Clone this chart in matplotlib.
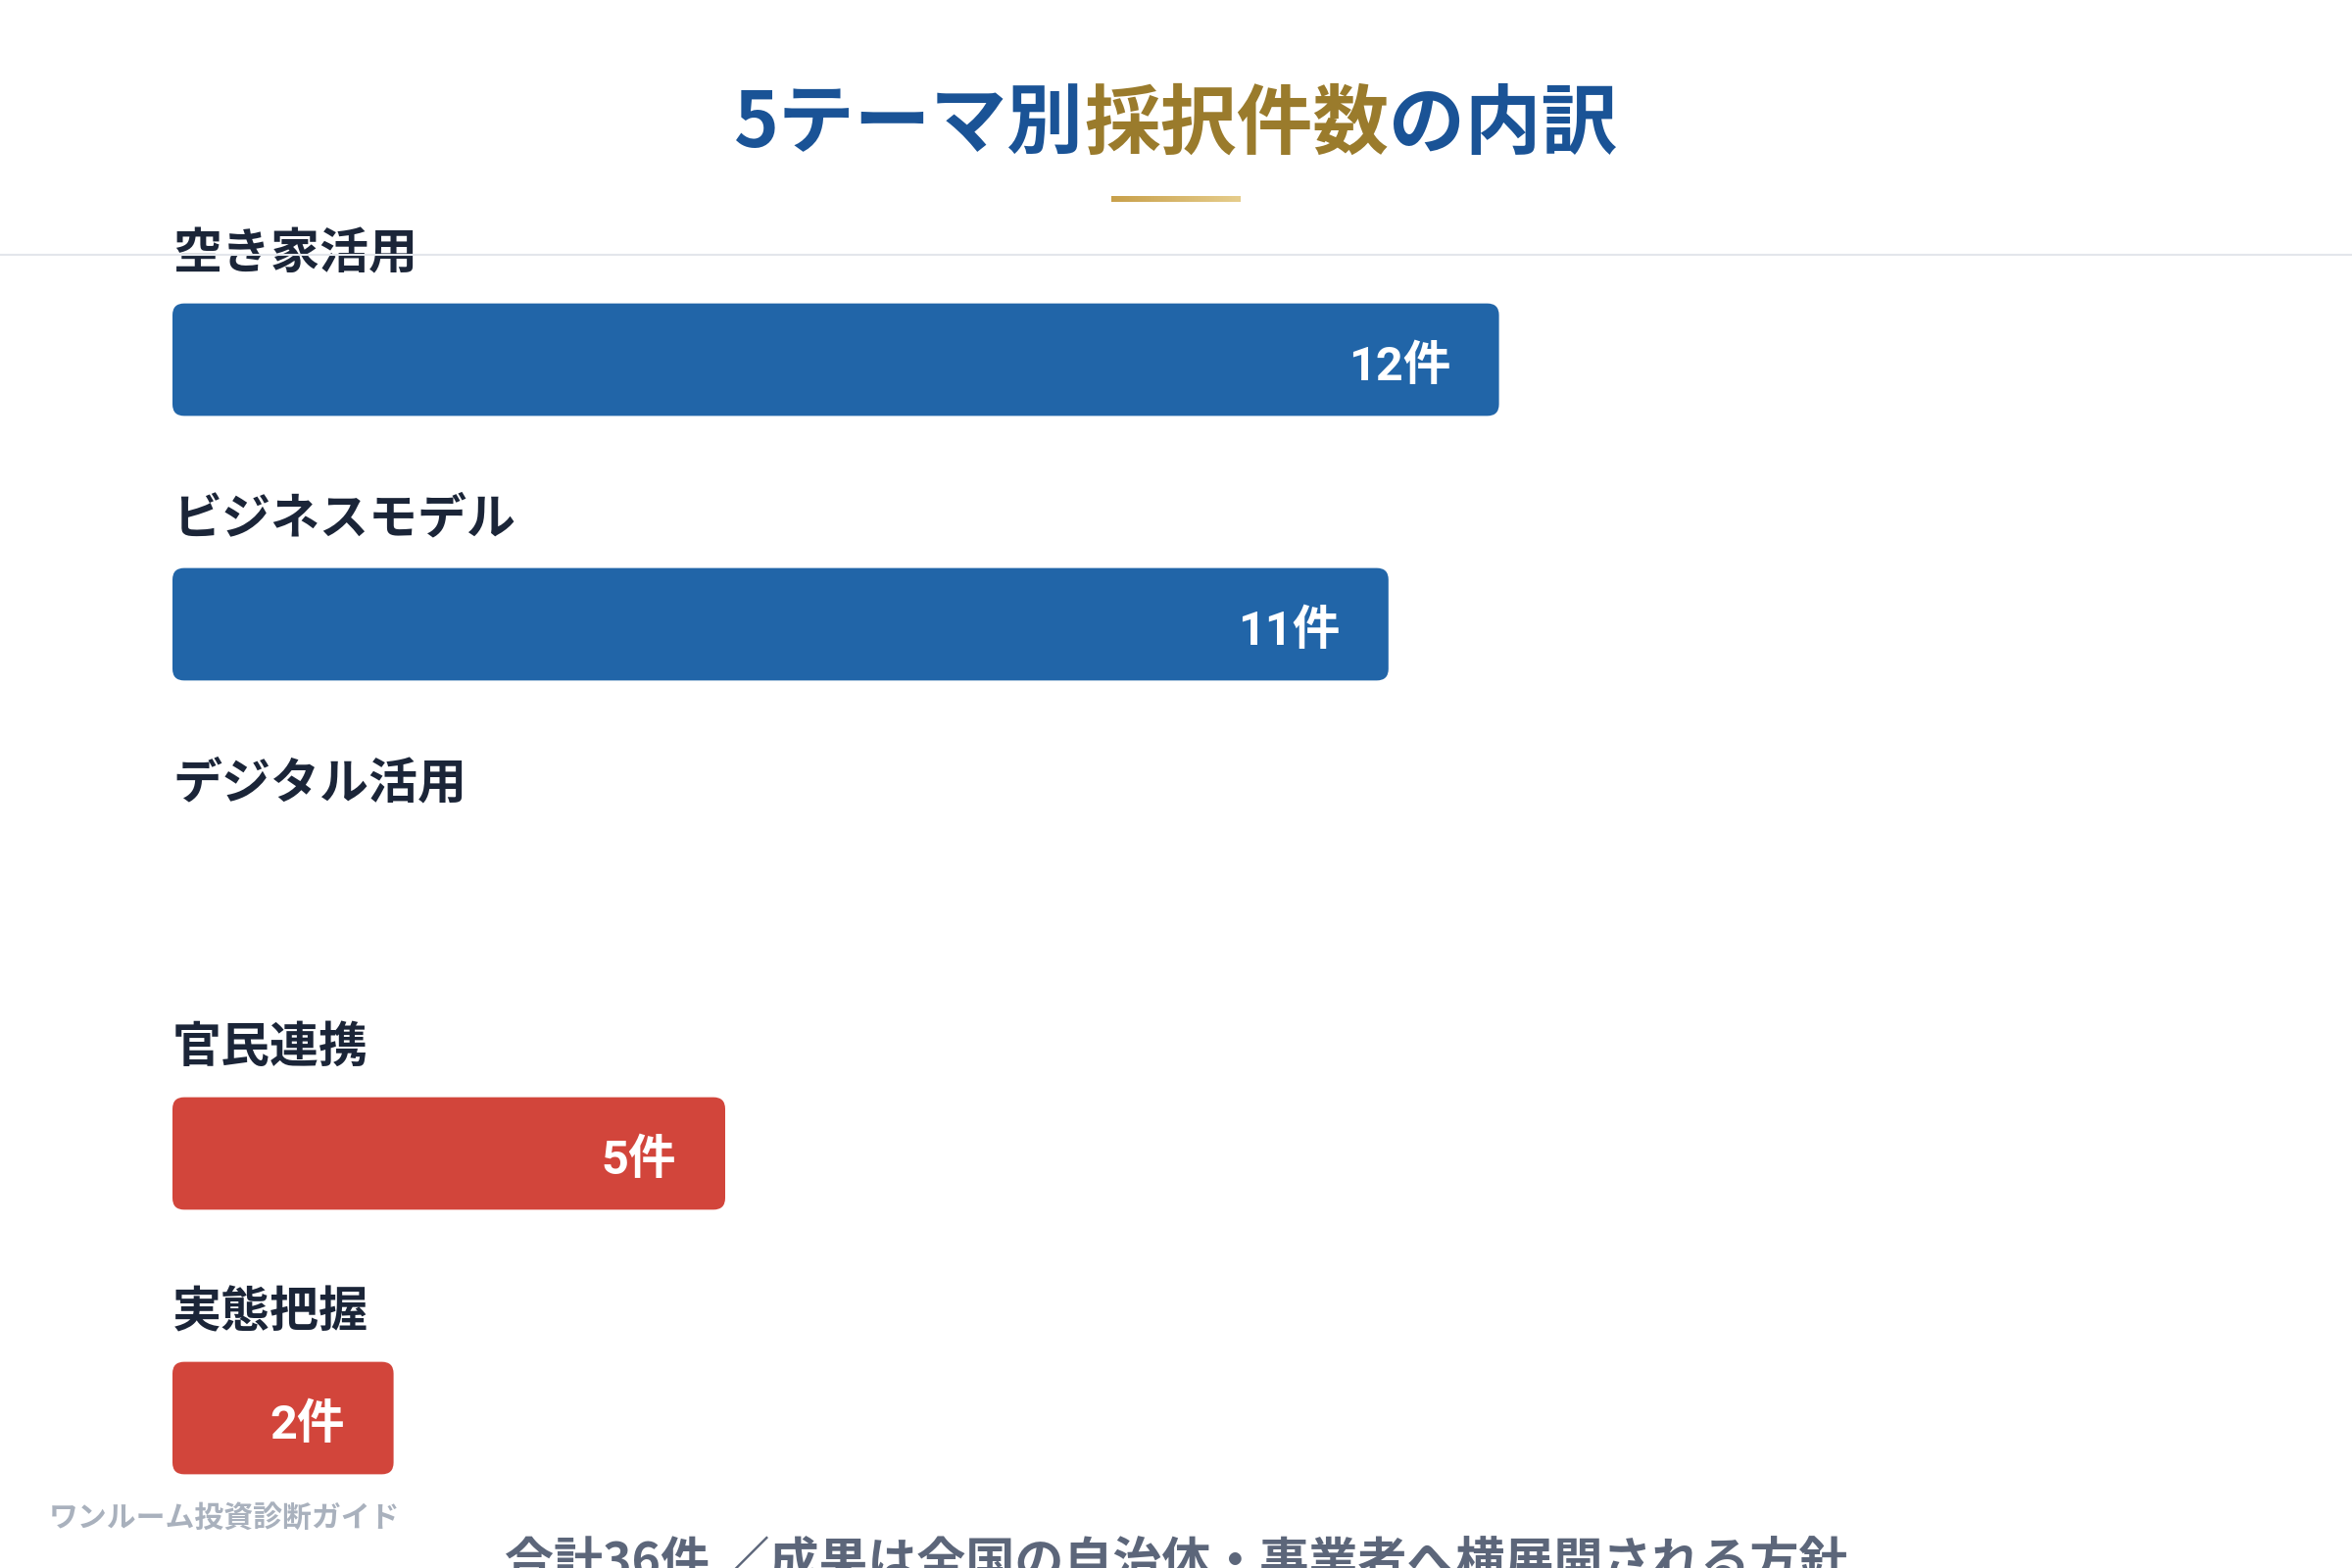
import numpy as np
import matplotlib
matplotlib.use("Agg")
import matplotlib.pyplot as plt
from matplotlib.patches import FancyBboxPatch
from matplotlib.lines import Line2D
from matplotlib.colors import LinearSegmentedColormap

plt.rcParams['font.family'] = ['Noto Sans CJK JP', 'DejaVu Sans']

# データ（テーマ別の採択件数）
themes = ["空き家活用", "ビジネスモデル", "デジタル活用", "官民連携", "実態把握"]
counts = [12, 11, None, 5, 2]   # デジタル活用 は参照画像でバーが描かれていない
unit = "件"
title_parts = ["5テーマ別", "採択件数", "の内訳"]
footer = "合計36件 ／成果は全国の自治体・事業者へ横展開される方針"
watermark = "ワンルーム投資診断ガイド"

# スタイル
bar_colors = ["#2165a8", "#2165a8", "#2165a8", "#d2453b", "#d2453b"]
title_colors = ["#1a5396", "#9a7b2c", "#1a5396"]
label_color = "#1b2538"

W, H = 2400, 1600
px_per_unit = 112.8
fig = plt.figure(figsize=(24, 16), dpi=100)
fig.patch.set_facecolor("white")

# 区切り線
fig.add_artist(Line2D([0, 1], [1 - 260 / H] * 2, transform=fig.transFigure,
                      color="#e3e6eb", lw=1.5))

# バー用の軸（1行 = 270px）
ax = fig.add_axes([176 / W, 18 / H, 19 * px_per_unit / W, 1350 / H])
ax.set_xlim(0, 19)
ax.set_ylim(4.5, -0.5)
ax.axis("off")

bar_h = 0.425
for i, (name, c) in enumerate(zip(themes, counts)):
    ax.text(0, i - 0.398, name, ha="left", va="center", fontsize=36,
            fontweight="bold", color=label_color)
    if c is None:
        continue
    patch = FancyBboxPatch((0, i - bar_h / 2), c, bar_h,
                           boxstyle="round,pad=0,rounding_size=0.106",
                           mutation_aspect=px_per_unit / 270,
                           facecolor=bar_colors[i], edgecolor="none")
    ax.add_patch(patch)
    ax.text(c - 0.44, i + 0.03, f"{c}{unit}", ha="right", va="center",
            fontsize=35, fontweight="bold", color="white",
            family=["Roboto", "Noto Sans CJK JP"])

# タイトル（色分け）
fig.canvas.draw()
r = fig.canvas.get_renderer()
texts = []
for s, col in zip(title_parts, title_colors):
    t = fig.text(0, 1 - 128 / H, s, fontsize=56, fontweight="bold", color=col,
                 ha="left", va="center")
    texts.append(t)
widths = [t.get_window_extent(r).width for t in texts]
x = (W - sum(widths)) / 2
for t, w in zip(texts, widths):
    t.set_x(x / W)
    x += w

# タイトル下のゴールドライン
gax = fig.add_axes([1134 / W, 1 - 206 / H, 132 / W, 6 / H])
gax.imshow(np.linspace(0, 1, 256)[None, :], aspect="auto",
           cmap=LinearSegmentedColormap.from_list("g", ["#c8a04a", "#e6cd8c"]))
gax.axis("off")

# 透かし・フッター
fig.text(50 / W, 1 - 1549 / H, watermark, fontsize=21.5, fontweight="bold",
         color="#a9b1bd", ha="left", va="center")
fig.text(0.5, 1 - 1570 / H, footer, fontsize=36, fontweight="bold",
         color="#5c667a", ha="center", va="top")

fig.savefig("out.png", dpi=100)
